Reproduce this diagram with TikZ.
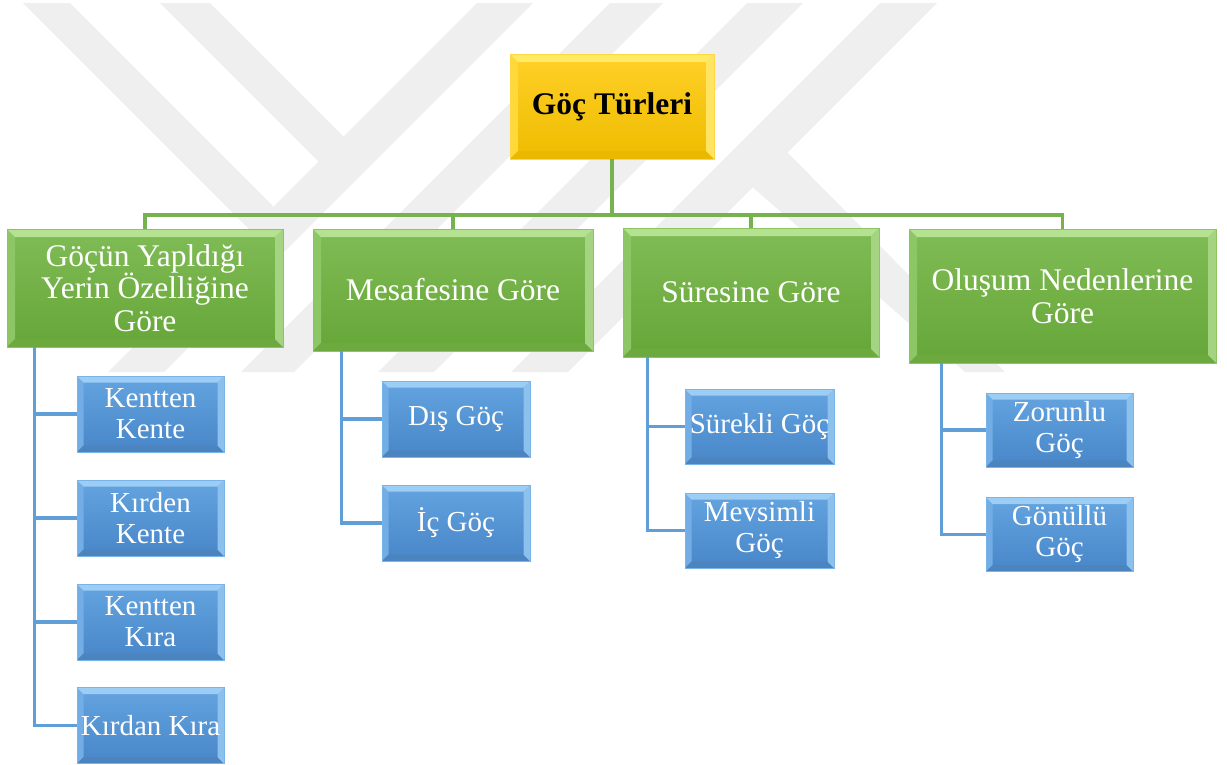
\documentclass[tikz,border=0pt]{standalone}
\usepackage{fontspec}
\setmainfont{Liberation Serif}
\definecolor{wm}{RGB}{239,239,239}
\definecolor{gtop}{RGB}{128,188,86}
\definecolor{gbot}{RGB}{102,166,56}
\definecolor{ghi}{RGB}{180,226,145}
\definecolor{gside}{RGB}{200,236,172}
\definecolor{gsh}{RGB}{108,170,64}
\definecolor{gedge}{RGB}{140,196,100}
\definecolor{btop}{RGB}{100,164,224}
\definecolor{bbot}{RGB}{72,134,200}
\definecolor{bhi}{RGB}{155,205,245}
\definecolor{bside}{RGB}{180,222,250}
\definecolor{bsh}{RGB}{76,132,192}
\definecolor{bedge}{RGB}{120,180,232}
\definecolor{ytop}{RGB}{255,208,40}
\definecolor{ybot}{RGB}{238,188,0}
\definecolor{yhi}{RGB}{255,234,100}
\definecolor{yside}{RGB}{255,242,140}
\definecolor{ysh}{RGB}{235,184,0}
\definecolor{yedge}{RGB}{255,215,70}
\definecolor{cgline}{RGB}{118,178,78}
\definecolor{cbline}{RGB}{95,158,215}
\tikzset{
  bevel/.style n args={5}{path picture={
    \fill[#5] (path picture bounding box.north west) -- (path picture bounding box.south west)
      -- ([xshift=#4,yshift=#4]path picture bounding box.south west)
      -- ([xshift=#4,yshift=-#4]path picture bounding box.north west) -- cycle;
    \fill[#3] (path picture bounding box.south west) -- (path picture bounding box.south east)
      -- ([xshift=-#4,yshift=#4]path picture bounding box.south east)
      -- ([xshift=#4,yshift=#4]path picture bounding box.south west) -- cycle;
    \fill[#2] (path picture bounding box.north east) -- (path picture bounding box.south east)
      -- ([xshift=-#4,yshift=#4]path picture bounding box.south east)
      -- ([xshift=-#4,yshift=-#4]path picture bounding box.north east) -- cycle;
    \fill[#1] (path picture bounding box.north west) -- (path picture bounding box.north east)
      -- ([xshift=-#4,yshift=-#4]path picture bounding box.north east)
      -- ([xshift=#4,yshift=-#4]path picture bounding box.north west) -- cycle;
  }},
  rootbox/.style={inner sep=0pt, align=center, text=black,
    font=\fontsize{31.5}{33}\selectfont\bfseries,
    top color=ytop, bottom color=ybot, draw=yedge, line width=0.8pt,
    bevel={yhi}{yside!60!ytop}{ysh}{8pt}{yhi!30!ytop}},
  gbox/.style={inner sep=0pt, align=center, text=white,
    font=\fontsize{31.5}{32.5}\selectfont,
    top color=gtop, bottom color=gbot, draw=gedge, line width=0.8pt,
    bevel={ghi}{gside!50!gtop}{gsh}{8pt}{ghi!25!gtop}},
  bbox/.style={inner sep=0pt, align=center, text=white,
    font=\fontsize{29}{31}\selectfont,
    top color=btop, bottom color=bbot, draw=bedge, line width=0.8pt,
    minimum width=147pt, minimum height=75pt,
    bevel={bhi}{bside!50!btop}{bsh}{6.5pt}{bhi!25!btop}},
  gconn/.style={draw=cgline, line width=3.5pt},
  bconn/.style={draw=cbline, line width=3.2pt}
}
\begin{document}
\begin{tikzpicture}[x=1pt,y=-1pt]
\useasboundingbox (0,0) rectangle (1227,764);
% watermark
\fill[wm] (477,3) -- (533,3) -- (164,372) -- (108,372) -- cycle;
\fill[wm] (23,3) -- (70,3) -- (283.5,216.5) -- (260,240) -- cycle;
\fill[wm] (160,3) -- (210,3) -- (343.5,136.5) -- (328.5,171.5) -- cycle;
\fill[wm] (610,3) -- (663,3) -- (294,372) -- (241,372) -- cycle;
\fill[wm] (747,3) -- (803,3) -- (434,372) -- (378,372) -- cycle;
\fill[wm] (880,3) -- (937,3) -- (568,372) -- (511,372) -- cycle;
\fill[wm] (750,185) -- (785,150) -- (1005,372) -- (965,372) -- cycle;
% root
\node[rootbox, minimum width=204pt, minimum height=105pt] (root) at (612,106.5) {Göç Türleri};
% level 1
\node[gbox, minimum width=276pt, minimum height=118pt] (g1) at (145,288) {Göçün Yapldığı\\Yerin Özelliğine\\Göre};
\node[gbox, minimum width=280pt, minimum height=122pt] (g2) at (453,290) {Mesafesine Göre};
\node[gbox, minimum width=256pt, minimum height=129pt] (g3) at (751,292.5) {Süresine Göre};
\node[gbox, minimum width=307pt, minimum height=134pt] (g4) at (1062.5,296) {Oluşum Nedenlerine\\Göre};
% level 2
\node[bbox, minimum height=76pt] (b11) at (150.5,414) {Kentten\\Kente};
\node[bbox, minimum height=76pt] (b12) at (150.5,518) {Kırden\\Kente};
\node[bbox, minimum height=76pt] (b13) at (150.5,622) {Kentten\\Kıra};
\node[bbox, minimum height=76pt] (b14) at (150.5,725.5) {Kırdan Kıra};
\node[bbox, minimum width=148pt, minimum height=76pt] (b21) at (456,419) {Dış Göç};
\node[bbox, minimum width=148pt, minimum height=76pt] (b22) at (456,523) {İç Göç};
\node[bbox, minimum width=149pt] (b31) at (759.5,426.5) {Sürekli Göç};
\node[bbox, minimum width=149pt] (b32) at (759.5,530.5) {Mevsimli\\Göç};
\node[bbox, minimum height=74pt] (b41) at (1059.5,430) {Zorunlu\\Göç};
\node[bbox, minimum height=74pt] (b42) at (1059.5,534.5) {Gönüllü\\Göç};
% green connectors
\coordinate (bus) at (612,215);
\draw[gconn] (root.south) -- (root.south |- bus);
\draw[gconn] (g1.north) -- (g1.north |- bus) -- (g4.north |- bus) -- (g4.north);
\draw[gconn] (g2.north) -- (g2.north |- bus);
\draw[gconn] (g3.north) -- (g3.north |- bus);
% blue connectors
\draw[bconn] ([xshift=28pt]g1.south west) |- (b11.west);
\draw[bconn] ([xshift=28pt]g1.south west) |- (b12.west);
\draw[bconn] ([xshift=28pt]g1.south west) |- (b13.west);
\draw[bconn] ([xshift=28pt]g1.south west) |- (b14.west);
\draw[bconn] ([xshift=28.5pt]g2.south west) |- (b21.west);
\draw[bconn] ([xshift=28.5pt]g2.south west) |- (b22.west);
\draw[bconn] ([xshift=25pt]g3.south west) |- (b31.west);
\draw[bconn] ([xshift=25pt]g3.south west) |- (b32.west);
\draw[bconn] ([xshift=32.5pt]g4.south west) |- (b41.west);
\draw[bconn] ([xshift=32.5pt]g4.south west) |- (b42.west);
\end{tikzpicture}
\end{document}
